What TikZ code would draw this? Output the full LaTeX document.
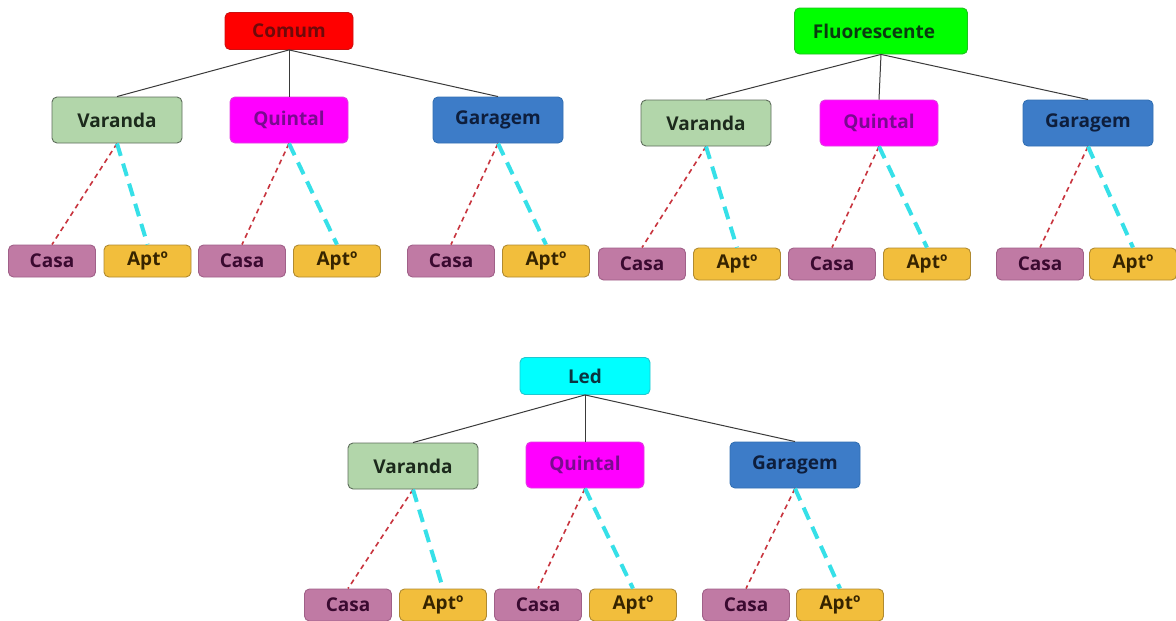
\documentclass[tikz,border=0pt]{standalone}
\usepackage{fontspec}
\setmainfont{Open Sans}
\definecolor{cRoot1}{HTML}{FF0000}
\definecolor{cRoot1d}{HTML}{CC1010}
\definecolor{cRoot1t}{HTML}{6E0A0A}
\definecolor{cRoot2}{HTML}{00FF00}
\definecolor{cRoot2d}{HTML}{20C020}
\definecolor{cRoot2t}{HTML}{0A3A10}
\definecolor{cRoot3}{HTML}{00FFFF}
\definecolor{cRoot3d}{HTML}{20C8D0}
\definecolor{cRoot3t}{HTML}{0A3440}
\definecolor{cVar}{HTML}{B2D6AA}
\definecolor{cVard}{HTML}{5E6E5C}
\definecolor{cVart}{HTML}{1C2A1C}
\definecolor{cQui}{HTML}{FF00FF}
\definecolor{cQuid}{HTML}{E040E0}
\definecolor{cQuit}{HTML}{7A0A90}
\definecolor{cGar}{HTML}{3D7CC8}
\definecolor{cGard}{HTML}{3270B4}
\definecolor{cGart}{HTML}{0E1E3C}
\definecolor{cCasa}{HTML}{C07AA4}
\definecolor{cCasad}{HTML}{A06088}
\definecolor{cCasat}{HTML}{3A0A30}
\definecolor{cApt}{HTML}{F2BE3C}
\definecolor{cAptd}{HTML}{B08A30}
\definecolor{cAptt}{HTML}{362400}
\definecolor{cRed}{HTML}{C8343E}
\definecolor{cCyan}{HTML}{36E0E8}
\definecolor{cLine}{HTML}{3A3A3A}
\tikzset{
  box/.style={rounded corners=5pt, inner sep=0pt, line width=0.9pt,
    font=\fontsize{19}{22}\selectfont\bfseries, align=center},
  midbox/.style={box, minimum width=130pt, minimum height=46pt},
  botbox/.style={box, minimum width=87pt, minimum height=32pt},
  rootbox/.style={box, minimum height=37pt},
  varbox/.style={midbox, fill=cVar, draw=cVard, text=cVart},
  quibox/.style={midbox, minimum width=118pt, fill=cQui, draw=cQuid, text=cQuit},
  garbox/.style={midbox, fill=cGar, draw=cGard, text=cGart},
  casabox/.style={botbox, fill=cCasa, draw=cCasad, text=cCasat},
  aptbox/.style={botbox, fill=cApt, draw=cAptd, text=cAptt},
  solidlink/.style={draw=cLine, line width=1pt},
  reddash/.style={draw=cRed, line width=1.6pt, dash pattern=on 5pt off 4pt},
  cyandash/.style={draw=cCyan, line width=4pt, dash pattern=on 13pt off 8pt}
}
\newcommand{\leafpair}[6]{%
  \node[casabox] (#1c) at (#3,#5) {Casa};
  \node[aptbox] (#1a) at (#4,#5) {Aptº};
  \draw[reddash] (#2.south) -- (#1c.north);
  \draw[cyandash] (#2.south) -- (#1a.north);
}
\begin{document}
\begin{tikzpicture}[x=1pt,y=-1pt]
\useasboundingbox (0,0) rectangle (1176,621);
\fill[white] (0,0) rectangle (1176,621);
% ---- Tree 1: Comum
\node[rootbox, minimum width=128pt, fill=cRoot1, draw=cRoot1d, text=cRoot1t] (r1) at (289,31) {Comum};
\node[varbox] (v1) at (117,120) {Varanda};
\node[quibox] (q1) at (289,120) {Quintal};
\node[garbox] (g1) at (498,120) {Garagem};
\draw[solidlink] (r1.south) -- (v1.north);
\draw[solidlink] (r1.south) -- (q1.north);
\draw[solidlink] (r1.south) -- (g1.north);
\leafpair{v1l}{v1}{52}{147.5}{261}{}
\leafpair{q1l}{q1}{242}{337}{261}{}
\leafpair{g1l}{g1}{451}{546}{261}{}
% ---- Tree 2: Fluorescente
\node[rootbox, minimum width=173pt, minimum height=46pt, fill=cRoot2, draw=cRoot2d, text=cRoot2t] (r2) at (881,31) {Fluorescente\hspace*{14pt}};
\node[varbox] (v2) at (706,123) {Varanda};
\node[quibox] (q2) at (879,123) {Quintal};
\node[garbox] (g2) at (1088,123) {Garagem};
\draw[solidlink] (r2.south) -- (v2.north);
\draw[solidlink] (r2.south) -- (q2.north);
\draw[solidlink] (r2.south) -- (g2.north);
\leafpair{v2l}{v2}{642}{737}{264}{}
\leafpair{q2l}{q2}{832}{927}{264}{}
\leafpair{g2l}{g2}{1040}{1133}{264}{}
% ---- Tree 3: Led
\node[rootbox, minimum width=130pt, fill=cRoot3, draw=cRoot3d, text=cRoot3t] (r3) at (585,376) {Led};
\node[varbox] (v3) at (413,466) {Varanda};
\node[quibox] (q3) at (585,465) {Quintal};
\node[garbox] (g3) at (795,465) {Garagem};
\draw[solidlink] (r3.south) -- (v3.north);
\draw[solidlink] (r3.south) -- (q3.north);
\draw[solidlink] (r3.south) -- (g3.north);
\leafpair{v3l}{v3}{348}{443}{605}{}
\leafpair{q3l}{q3}{538}{633}{605}{}
\leafpair{g3l}{g3}{746}{840}{605}{}
\end{tikzpicture}
\end{document}
